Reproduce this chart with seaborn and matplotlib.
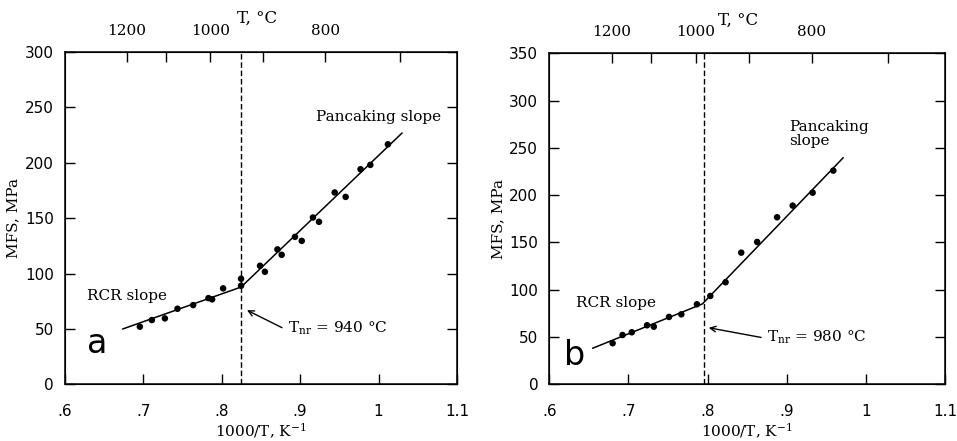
import numpy as np
import pandas as pd
import seaborn as sns
import matplotlib.pyplot as plt

sns.set_style('ticks', {'text.color': 'black', 'axes.labelcolor': 'black',
                        'xtick.color': 'black', 'ytick.color': 'black',
                        'axes.edgecolor': 'black'})
plt.rcParams['font.family'] = ['DejaVu Sans']
plt.rcParams['mathtext.default'] = 'regular'

SERIF = 'DejaVu Serif'

# panel a: measured MFS vs 1000/T
a_x = [0.6955, 0.7108, 0.7274, 0.7435, 0.7635, 0.783, 0.7877, 0.8017, 0.8246, 0.8246,
       0.8488, 0.855, 0.871, 0.8764, 0.8934, 0.902, 0.9163, 0.924, 0.944, 0.958,
       0.977, 0.9895, 1.0119]
a_y = [52.0, 58.0, 59.5, 68.2, 71.5, 77.8, 76.7, 86.6, 95.3, 89.0,
       107.0, 101.6, 121.8, 116.9, 133.1, 129.5, 150.6, 146.7, 173.2, 169.2,
       194.2, 198.1, 216.7]
a_fit_x = [0.6735, 0.8246, 1.030]
a_fit_y = [49.9, 87.8, 226.9]
a_tnr = 0.8250

# panel b
b_x = [0.680, 0.6925, 0.7042, 0.7235, 0.732, 0.7512, 0.7668, 0.7865, 0.8034, 0.8227,
       0.8425, 0.8626, 0.8878, 0.9075, 0.9327, 0.9588]
b_y = [43.4, 52.1, 55.0, 62.4, 60.9, 71.2, 74.0, 84.6, 93.4, 107.9,
       139.2, 150.5, 176.6, 188.9, 202.6, 225.9]
b_fit_x = [0.6547, 0.7933, 0.9714]
b_fit_y = [38.1, 84.9, 239.6]
b_tnr = 0.7955

top_T = [1200, 1100, 1000, 900, 800, 700]
top_labels = ['1200', '', '1000', '', '800', '']
x_ticks = [0.6, 0.7, 0.8, 0.9, 1.0, 1.1]
x_labels = ['.6', '.7', '.8', '.9', '1', '1.1']

fig = plt.figure(figsize=(9.57, 4.41), dpi=100)
ax_a = fig.add_axes([0.0679, 0.1286, 0.4096, 0.7534])
ax_b = fig.add_axes([0.574, 0.1286, 0.4135, 0.7506])


def panel(ax, xs, ys, fx, fy, tnr, ymax, letter, letter_xy, rcr_xy, pan_xy, pan_txt,
          tnr_txt, tnr_xy, arrow_xy, tc_x):
    sns.lineplot(x=fx, y=fy, ax=ax, color='black', lw=1.1, sort=False)
    sns.scatterplot(x=xs, y=ys, ax=ax, color='black', s=22, edgecolor='none', zorder=3)
    ax.axvline(tnr, color='black', ls=(0, (4, 2)), lw=1.0)
    ax.set_xlim(0.6, 1.1)
    ax.set_ylim(0, ymax)
    ax.set_xticks(x_ticks)
    ax.set_xticklabels(x_labels)
    ax.set_yticks(np.arange(0, ymax + 1, 50))
    ax.tick_params(direction='in', length=7, width=1, labelsize=11, right=True)
    ax.tick_params(axis='x', pad=14)
    ax.tick_params(axis='y', pad=8)
    for s in ax.spines.values():
        s.set_linewidth(1.1)
    ax.set_xlabel('1000/T, K$^{-1}$', family=SERIF, fontsize=11, labelpad=2)
    ax.set_ylabel('MFS, MPa', family=SERIF, fontsize=11, labelpad=3)

    top = ax.twiny()
    top.set_xlim(0.6, 1.1)
    top.set_xticks([1000 / (t + 273.15) for t in top_T])
    top.set_xticklabels(top_labels, family=SERIF, fontsize=11)
    top.tick_params(direction='in', length=7, width=1, pad=10)
    top.text(tc_x, 1.10, 'T, °C', transform=ax.transAxes, ha='center', va='center',
             family=SERIF, fontsize=12)

    ax.text(*letter_xy, letter, fontsize=24, ha='left', va='center')
    ax.text(*rcr_xy, 'RCR slope', family=SERIF, fontsize=11, ha='left', va='center')
    ax.text(*pan_xy, pan_txt, family=SERIF, fontsize=11, ha='left', va='center',
            linespacing=1.0)
    ax.text(*tnr_xy, tnr_txt, family=SERIF, fontsize=11, ha='left', va='center')
    ax.annotate('', xy=arrow_xy, xytext=(tnr_xy[0] - 0.004, tnr_xy[1] - 1),
                arrowprops=dict(arrowstyle='->', color='black', lw=1.0))


panel(ax_a, a_x, a_y, a_fit_x, a_fit_y, a_tnr, 300, 'a', (0.628, 37), (0.628, 80),
      (0.920, 241), 'Pancaking slope', 'T$_{nr}$ = 940 °C', (0.884, 51), (0.829, 68), 0.49)
panel(ax_b, b_x, b_y, b_fit_x, b_fit_y, b_tnr, 350, 'b', (0.619, 30), (0.634, 86),
      (0.903, 265), 'Pancaking\nslope', 'T$_{nr}$ = 980 °C', (0.875, 50), (0.798, 60.3), 0.477)

plt.savefig('out.png', dpi=100)
